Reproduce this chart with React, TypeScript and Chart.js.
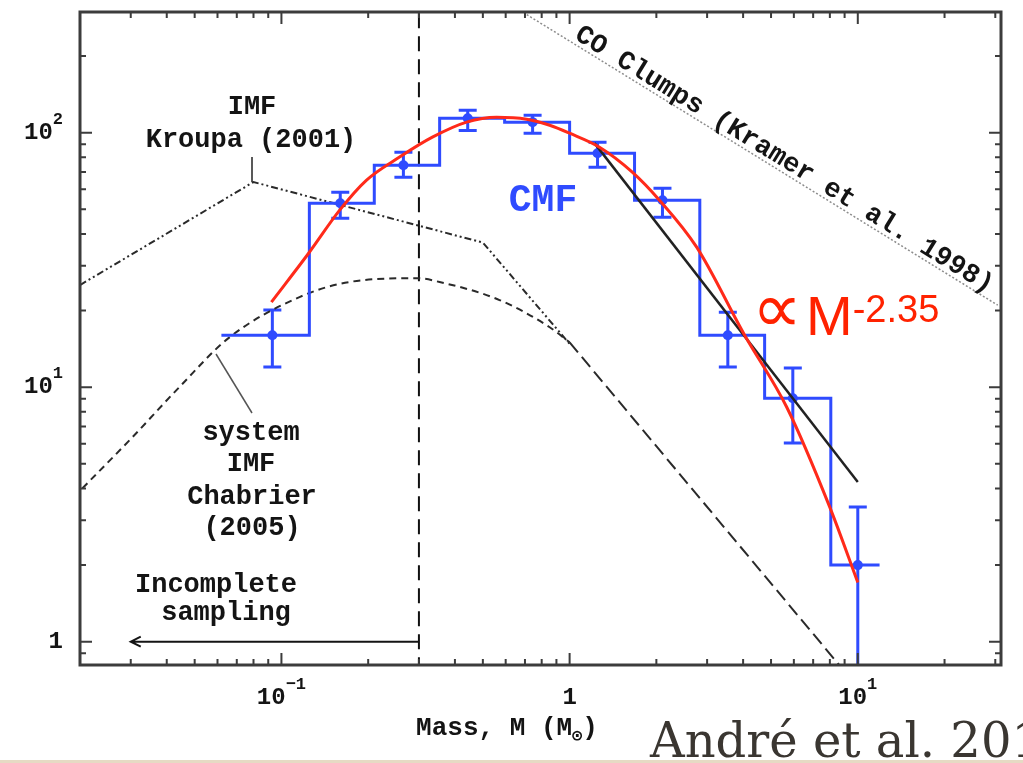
import React, { useEffect, useRef } from "react";
import { Chart, registerables } from "chart.js";

Chart.register(...registerables);

// Axis ranges (solar masses / number per log bin)
const X_MIN = 0.02;
const X_MAX = 31.4;
const Y_MIN = 0.81;
const Y_MAX = 298;

// CMF histogram (bin edges and counts)
const binEdges = [0.0619, 0.125, 0.21, 0.354, 0.595, 1.0, 1.68, 2.83, 4.75, 8.06, 11.9];
const binCounts = [16, 52.8, 74.5, 114, 110, 83, 54.3, 16, 9.05, 2.0];

// CMF data points with error bars
const pointMass = [0.093, 0.16, 0.265, 0.443, 0.744, 1.25, 2.1, 3.54, 5.95, 10.0];
const pointCount = [16, 52.8, 74.5, 114, 110, 83, 54.3, 16, 9.05, 2.0];
const errHigh = [20.1, 58.4, 83.8, 122.5, 117, 91.8, 60.5, 19.7, 11.9, 3.38];
const errLow = [12.0, 46.1, 66.8, 102, 99.5, 73.2, 46.5, 12.0, 6.03, 0.5];

// Log-normal fit (red)
const fitMass = [0.0923, 0.125, 0.159, 0.197, 0.257, 0.334, 0.439, 0.558, 0.709, 0.853, 1.0, 1.27, 1.65, 2.05, 2.76, 4.05, 5.67, 8.0, 10.0];
const fitCount = [21.6, 33.9, 49.5, 65.0, 80.2, 96.0, 110, 115, 113, 107, 99.5, 87.7, 70.0, 54.3, 35.5, 16.0, 8.34, 3.37, 1.71];

// Power law M^-2.35 (black)
const powerLawMass = [1.22, 10];
const powerLawCount = [91, 4.24];

// Kroupa (2001) IMF
const kroupaMass = [0.02, 0.08, 0.5, 1.0];
const kroupaCount = [25.2, 64, 37, 14.8];

// Chabrier (2005) system IMF (log-normal part)
const chabrierMass = [0.0204, 0.0304, 0.0442, 0.066, 0.1155, 0.172, 0.297, 0.354, 0.571, 0.853, 1.0];
const chabrierCount = [4.01, 6.36, 10, 15.7, 22.6, 25.9, 26.8, 25.9, 22.0, 17.2, 15.0];

// Common high-mass tail of both IMFs
const tailMass = [1.0, 8.7];
const tailCount = [15.0, 0.8];

// CO clumps (Kramer et al. 1998)
const coClumpMass = [0.71, 30.6];
const coClumpCount = [291, 21];

// Completeness limit & arrow
const completenessMass = 0.3;
const arrowEndMass = 0.03;
const arrowLevel = 1;

// Tick labels
const xTickValues = [0.1, 1, 10];
const xTickBase = ["10", "1", "10"];
const xTickExp = ["\u22121", "", "1"];
const yTickValues = [1, 10, 100];
const yTickBase = ["1", "10", "10"];
const yTickExp = ["", "1", "2"];

const BLUE = "#2f4bff";
const RED = "#ff2a1a";
const INK = "#141414";
const MONO = '"Liberation Mono", "DejaVu Sans Mono", monospace';
const SANS = '"Liberation Sans", Arial, sans-serif';

function pts(xs: number[], ys: number[]) {
  return xs.map((x, i) => ({ x, y: ys[i] }));
}

export default function App() {
  const ref = useRef<HTMLCanvasElement>(null);

  useEffect(() => {
    const canvas = ref.current;
    if (!canvas) return;

    const drawPow = (ctx: CanvasRenderingContext2D, base: string, exp: string, x: number, y: number, align: "center" | "right") => {
      ctx.font = `bold 24px ${MONO}`;
      const wb = ctx.measureText(base).width;
      ctx.font = `bold 17px ${MONO}`;
      const we = exp ? ctx.measureText(exp).width : 0;
      const total = wb + we;
      const start = align === "center" ? x - total / 2 : x - total;
      ctx.textAlign = "left";
      ctx.textBaseline = "middle";
      ctx.font = `bold 24px ${MONO}`;
      ctx.fillText(base, start, y);
      if (exp) {
        ctx.font = `bold 17px ${MONO}`;
        ctx.fillText(exp, start + wb, y - 13);
      }
    };

    const annotations = {
      id: "annotations",
      beforeDatasetsDraw(chart: any) {
        const ctx: CanvasRenderingContext2D = chart.ctx;
        const xs = chart.scales.x;
        const ys = chart.scales.y;
        const a = chart.chartArea;
        ctx.save();
        ctx.beginPath();
        ctx.rect(a.left, a.top, a.right - a.left, a.bottom - a.top);
        ctx.clip();
        ctx.strokeStyle = BLUE;
        ctx.lineWidth = 3;
        pointMass.forEach((m, i) => {
          const px = xs.getPixelForValue(m);
          const hi = ys.getPixelForValue(errHigh[i]);
          const lo = ys.getPixelForValue(errLow[i]);
          ctx.beginPath();
          ctx.moveTo(px, hi);
          ctx.lineTo(px, lo);
          ctx.moveTo(px - 9, hi);
          ctx.lineTo(px + 9, hi);
          ctx.moveTo(px - 9, lo);
          ctx.lineTo(px + 9, lo);
          ctx.stroke();
        });
        ctx.restore();
      },
      afterDraw(chart: any) {
        const ctx: CanvasRenderingContext2D = chart.ctx;
        const xs = chart.scales.x;
        const ys = chart.scales.y;
        const a = chart.chartArea;
        ctx.save();

        // Frame
        ctx.strokeStyle = "#3c3c3c";
        ctx.lineWidth = 3;
        ctx.strokeRect(a.left, a.top, a.right - a.left, a.bottom - a.top);

        // Ticks (inward, all four sides)
        ctx.lineWidth = 2;
        ctx.beginPath();
        for (let d = -2; d <= 2; d++) {
          for (let k = 1; k <= 9; k++) {
            const v = k * Math.pow(10, d);
            const len = k === 1 ? 12 : 6;
            if (v >= X_MIN * 1.001 && v <= X_MAX * 0.999) {
              const px = xs.getPixelForValue(v);
              ctx.moveTo(px, a.bottom);
              ctx.lineTo(px, a.bottom - len);
              ctx.moveTo(px, a.top);
              ctx.lineTo(px, a.top + len);
            }
            if (v >= Y_MIN * 1.001 && v <= Y_MAX * 0.999) {
              const py = ys.getPixelForValue(v);
              ctx.moveTo(a.left, py);
              ctx.lineTo(a.left + len, py);
              ctx.moveTo(a.right, py);
              ctx.lineTo(a.right - len, py);
            }
          }
        }
        ctx.stroke();

        // Tick labels
        ctx.fillStyle = INK;
        xTickValues.forEach((v, i) => {
          drawPow(ctx, xTickBase[i], xTickExp[i], xs.getPixelForValue(v), a.bottom + 33, "center");
        });
        yTickValues.forEach((v, i) => {
          drawPow(ctx, yTickBase[i], yTickExp[i], a.left - 17, ys.getPixelForValue(v), "right");
        });

        // X axis title: Mass, M (M_sun)
        ctx.font = `bold 26px ${MONO}`;
        ctx.textBaseline = "middle";
        ctx.textAlign = "left";
        const t1 = "Mass, M (M";
        const w1 = ctx.measureText(t1).width;
        ctx.font = `bold 17px ${MONO}`;
        const sun = "\u2299";
        const ws = ctx.measureText(sun).width;
        ctx.font = `bold 26px ${MONO}`;
        const w3 = ctx.measureText(")").width;
        const tx = 507 - (w1 + ws + w3) / 2;
        ctx.fillText(t1, tx, 728);
        ctx.font = `bold 17px ${MONO}`;
        ctx.fillText(sun, tx + w1, 737);
        ctx.font = `bold 26px ${MONO}`;
        ctx.fillText(")", tx + w1 + ws, 728);

        // Annotation texts
        ctx.textAlign = "center";
        ctx.font = `bold 27px ${MONO}`;
        ctx.fillText("IMF", 252, 107);
        ctx.fillText("Kroupa (2001)", 251, 140);
        ctx.fillText("system", 251, 433);
        ctx.fillText("IMF", 251, 464);
        ctx.fillText("Chabrier", 252, 497);
        ctx.fillText("(2005)", 252, 528);
        ctx.fillText("Incomplete", 216, 585);
        ctx.fillText("sampling", 226, 613);

        // Leader lines
        ctx.strokeStyle = "#222";
        ctx.lineWidth = 1.5;
        ctx.beginPath();
        ctx.moveTo(252, 157);
        ctx.lineTo(252, 182);
        ctx.stroke();
        ctx.strokeStyle = "#555";
        ctx.beginPath();
        ctx.moveTo(216, 354);
        ctx.lineTo(252, 413);
        ctx.stroke();

        // Incomplete sampling arrow
        const ax0 = xs.getPixelForValue(completenessMass);
        const ax1 = xs.getPixelForValue(arrowEndMass);
        const ay = ys.getPixelForValue(arrowLevel);
        ctx.strokeStyle = INK;
        ctx.lineWidth = 2;
        ctx.beginPath();
        ctx.moveTo(ax0, ay);
        ctx.lineTo(ax1, ay);
        ctx.moveTo(ax1 + 10, ay - 5);
        ctx.lineTo(ax1, ay);
        ctx.lineTo(ax1 + 10, ay + 5);
        ctx.stroke();

        // CMF label
        ctx.fillStyle = BLUE;
        ctx.font = `bold 38px ${MONO}`;
        ctx.fillText("CMF", 543, 201);

        // CO clumps label rotated along line
        const p1x = xs.getPixelForValue(coClumpMass[0]);
        const p1y = ys.getPixelForValue(coClumpCount[0]);
        const p2x = xs.getPixelForValue(coClumpMass[1]);
        const p2y = ys.getPixelForValue(coClumpCount[1]);
        const ang = Math.atan2(p2y - p1y, p2x - p1x);
        ctx.save();
        ctx.translate(784, 160);
        ctx.rotate(ang);
        ctx.fillStyle = INK;
        ctx.font = `bold 27px ${MONO}`;
        ctx.textAlign = "center";
        ctx.textBaseline = "middle";
        ctx.fillText("CO Clumps (Kramer et al. 1998)", 0, 0);
        ctx.restore();

        // Power-law label
        ctx.fillStyle = "#ff2200";
        ctx.textAlign = "left";
        ctx.textBaseline = "middle";
        ctx.font = `70px ${SANS}`;
        ctx.fillText("\u221D", 752, 313);
        ctx.textBaseline = "alphabetic";
        ctx.font = `56px ${SANS}`;
        ctx.fillText("M", 806, 335);
        const wm = ctx.measureText("M").width;
        ctx.font = `38px ${SANS}`;
        ctx.fillText("-2.35", 806 + wm, 322);

        // Citation
        ctx.fillStyle = "#3a3631";
        ctx.font = `48px "DejaVu Serif", "Liberation Serif", serif`;
        ctx.fillText("Andr\u00e9 et al. 2010", 650, 757);

        // Bottom tan rule
        ctx.fillStyle = "#e6dac4";
        ctx.fillRect(0, 760, 1023, 3);

        ctx.restore();
      },
    };

    const chart = new Chart(canvas, {
      type: "line",
      data: {
        datasets: [
          {
            label: "Log-normal fit",
            data: pts(fitMass, fitCount),
            borderColor: RED,
            borderWidth: 3,
            pointRadius: 0,
            cubicInterpolationMode: "monotone",
            order: 0,
          },
          {
            label: "M^-2.35",
            data: pts(powerLawMass, powerLawCount),
            borderColor: "#222",
            borderWidth: 2.5,
            pointRadius: 0,
            order: 1,
          },
          {
            label: "CMF points",
            data: pts(pointMass, pointCount),
            showLine: false,
            pointRadius: 5,
            pointBackgroundColor: BLUE,
            pointBorderColor: BLUE,
            pointBorderWidth: 0,
            order: 2,
          },
          {
            label: "CMF",
            data: binEdges.map((e, i) => ({ x: e, y: binCounts[Math.min(i, binCounts.length - 1)] })),
            borderColor: BLUE,
            borderWidth: 3,
            pointRadius: 0,
            stepped: "before",
            order: 3,
          },
          {
            label: "CO clumps",
            data: pts(coClumpMass, coClumpCount),
            borderColor: "#8c8c8c",
            borderWidth: 1.5,
            borderDash: [2, 2],
            pointRadius: 0,
            order: 4,
          },
          {
            label: "Kroupa",
            data: pts(kroupaMass, kroupaCount),
            borderColor: "#2a2a2a",
            borderWidth: 2,
            borderDash: [7, 3, 2, 3, 2, 3],
            pointRadius: 0,
            order: 5,
          },
          {
            label: "Chabrier",
            data: pts(chabrierMass, chabrierCount),
            borderColor: "#2a2a2a",
            borderWidth: 2,
            borderDash: [7, 5],
            pointRadius: 0,
            cubicInterpolationMode: "monotone",
            order: 6,
          },
          {
            label: "High-mass tail",
            data: pts(tailMass, tailCount),
            borderColor: "#2a2a2a",
            borderWidth: 2,
            borderDash: [13, 6],
            pointRadius: 0,
            order: 7,
          },
          {
            label: "Completeness",
            data: [
              { x: completenessMass, y: 0.5 },
              { x: completenessMass, y: 1000 },
            ],
            borderColor: "#111",
            borderWidth: 2,
            borderDash: [15, 8],
            pointRadius: 0,
            order: 8,
          },
        ] as any,
      },
      options: {
        animation: false,
        responsive: false,
        devicePixelRatio: 1,
        layout: { padding: { left: 80, top: 12, right: 22, bottom: 98 } },
        scales: {
          x: { type: "logarithmic", min: X_MIN, max: X_MAX, display: false },
          y: { type: "logarithmic", min: Y_MIN, max: Y_MAX, display: false },
        },
        plugins: {
          legend: { display: false },
          tooltip: { enabled: false },
        },
        events: [],
      } as any,
      plugins: [annotations],
    });

    return () => chart.destroy();
  }, []);

  return (
    <div style={{ position: "absolute", left: 0, top: 0, width: 1023, height: 763, background: "#ffffff" }}>
      <canvas ref={ref} width={1023} height={763} style={{ width: 1023, height: 763, display: "block" }} />
    </div>
  );
}
